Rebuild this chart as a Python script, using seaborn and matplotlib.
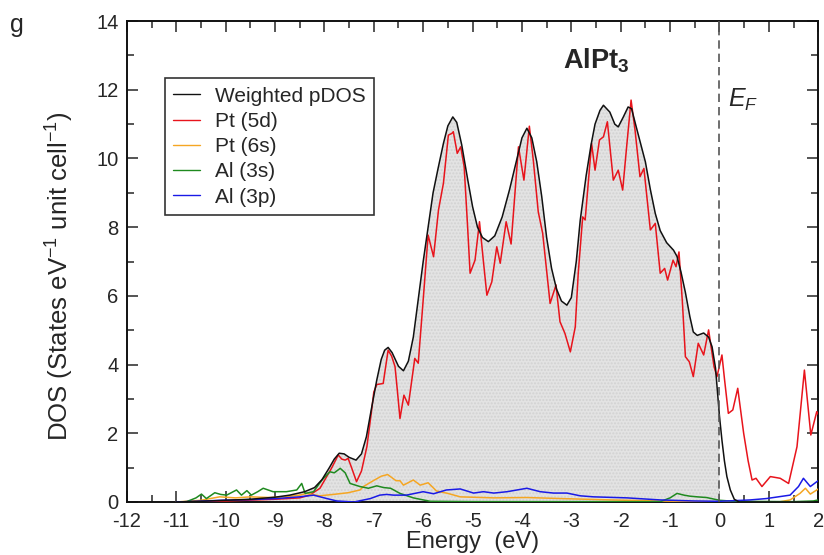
import numpy as np
import pandas as pd
import matplotlib
matplotlib.use('Agg')
import matplotlib.pyplot as plt
import seaborn as sns
from matplotlib.ticker import MultipleLocator

# --- 数据 ---
e_total = [-11.0, -10.5, -10.0, -9.5, -9.0, -8.7, -8.4, -8.2, -8.05, -7.9, -7.8, -7.7, -7.6, -7.5,
           -7.36, -7.25, -7.15, -7.05, -6.94, -6.85, -6.78, -6.71, -6.63, -6.5, -6.4, -6.3, -6.2,
           -6.1, -6.0, -5.9, -5.8, -5.7, -5.59, -5.5, -5.4, -5.32, -5.22, -5.1, -5.0, -4.9, -4.8,
           -4.68, -4.55, -4.4, -4.25, -4.1, -4.0, -3.9, -3.8, -3.7, -3.6, -3.5, -3.4, -3.3, -3.2,
           -3.09, -3.0, -2.9, -2.82, -2.7, -2.6, -2.52, -2.42, -2.35, -2.22, -2.12, -2.05, -1.95,
           -1.85, -1.78, -1.7, -1.6, -1.5, -1.4, -1.3, -1.2, -1.07, -0.93, -0.86, -0.78, -0.69,
           -0.6, -0.53, -0.45, -0.32, -0.22, -0.15, -0.08, 0.0, 0.05, 0.1, 0.15, 0.22, 0.3, 0.4, 2.0]
dos_total = [0.0, 0.02, 0.05, 0.08, 0.14, 0.2, 0.3, 0.42, 0.65, 1.0, 1.25, 1.42, 1.4, 1.3,
             1.22, 1.4, 1.9, 2.7, 3.55, 4.15, 4.42, 4.5, 4.35, 3.95, 3.82, 4.1, 4.8,
             5.9, 7.0, 8.0, 9.0, 9.7, 10.44, 10.95, 11.21, 11.05, 10.4, 9.4, 8.6, 8.0, 7.7,
             7.58, 7.75, 8.3, 9.1, 10.0, 10.6, 10.88, 10.6, 9.9, 8.9, 7.7, 6.8, 6.2, 5.85,
             5.73, 5.95, 7.0, 8.2, 9.5, 10.4, 11.0, 11.4, 11.55, 11.35, 11.0, 10.92, 11.2,
             11.5, 11.45, 11.0, 10.45, 9.9, 9.1, 8.4, 7.9, 7.55, 7.33, 7.15, 6.7, 6.1,
             5.4, 4.95, 4.85, 4.92, 4.8, 4.52, 3.9, 2.5, 1.8, 1.2, 0.74, 0.35, 0.08, 0.0, 0.0]

e_pt5d = [-11.0, -10.0, -9.0, -8.5, -8.3, -8.09, -7.95, -7.85, -7.72, -7.65, -7.58, -7.52, -7.45,
          -7.35, -7.25, -7.14, -7.05, -7.0, -6.94, -6.81, -6.71, -6.64, -6.57, -6.52, -6.47, -6.39,
          -6.3, -6.17, -6.1, -6.0, -5.9, -5.79, -5.69, -5.59, -5.49, -5.42, -5.39, -5.31, -5.24,
          -5.17, -5.1, -5.05, -4.95, -4.86, -4.78, -4.71, -4.61, -4.51, -4.44, -4.32, -4.22, -4.07,
          -3.96, -3.85, -3.77, -3.67, -3.58, -3.43, -3.31, -3.23, -3.13, -3.02, -2.92, -2.86,
          -2.77, -2.72, -2.59, -2.52, -2.43, -2.35, -2.27, -2.15, -2.05, -1.96, -1.88, -1.79,
          -1.71, -1.61, -1.53, -1.4, -1.3, -1.2, -1.11, -1.05, -0.94, -0.88, -0.82, -0.75, -0.69,
          -0.61, -0.53, -0.43, -0.32, -0.22, -0.11, -0.05, 0.05, 0.1, 0.18, 0.27, 0.37, 0.49,
          0.58, 0.66, 0.74, 0.86, 1.03, 1.23, 1.4, 1.57, 1.72, 1.85, 1.97, 2.0]
dos_pt5d = [0.0, 0.03, 0.08, 0.12, 0.2, 0.4, 0.75, 1.0, 1.37, 1.25, 1.22, 1.27, 1.0,
            0.59, 0.9, 1.61, 2.6, 3.2, 3.42, 3.45, 4.42, 4.25, 3.94, 3.2, 2.43, 3.11,
            2.82, 4.18, 4.04, 5.88, 7.77, 7.14, 8.5, 9.28, 10.68, 10.73, 10.78, 10.15, 10.34,
            9.76, 8.0, 6.66, 7.04, 8.16, 7.0, 6.02, 6.41, 7.43, 6.95, 8.16, 7.51, 10.34,
            9.37, 10.94, 9.95, 8.45, 7.82, 5.78, 6.32, 5.25, 4.91, 4.37, 5.1, 6.66,
            8.3, 8.21, 10.44, 9.66, 10.54, 10.63, 11.07, 9.37, 9.66, 9.08, 10.34, 11.7,
            10.83, 9.47, 9.71, 7.92, 8.11, 6.66, 6.8, 6.46, 7.04, 6.85, 7.28, 5.8, 4.23,
            4.08, 3.65, 4.62, 4.28, 5.01, 3.94, 3.65, 4.28, 3.6, 2.58, 2.68, 3.31, 2.0,
            1.2, 0.64, 0.69, 0.45, 0.74, 0.69, 0.54, 1.61, 3.84, 1.95, 2.63, 2.55]

e_pt6s = [-11.0, -10.5, -10.12, -9.8, -9.5, -9.1, -8.8, -8.5, -8.36, -8.1, -7.82, -7.52, -7.28,
          -7.21, -7.01, -6.85, -6.72, -6.55, -6.47, -6.4, -6.2, -6.06, -5.9, -5.73, -5.5, -5.25,
          -4.57, -3.9, -3.2, -2.2, -1.2, -0.5, 1.2, 1.43, 1.63, 1.74, 1.84, 1.97, 2.0]
dos_pt6s = [0.0, 0.05, 0.15, 0.12, 0.15, 0.13, 0.15, 0.2, 0.25, 0.18, 0.22, 0.27, 0.35,
            0.45, 0.62, 0.75, 0.8, 0.62, 0.62, 0.49, 0.64, 0.49, 0.56, 0.32, 0.25, 0.15,
            0.12, 0.13, 0.1, 0.06, 0.03, 0.01, 0.0, 0.06, 0.25, 0.4, 0.23, 0.35, 0.38]

e_al3s = [-11.0, -10.79, -10.6, -10.49, -10.39, -10.22, -10.1, -9.98, -9.78, -9.68, -9.57, -9.48,
          -9.35, -9.24, -9.04, -8.77, -8.56, -8.46, -8.39, -8.22, -8.05, -7.89, -7.8, -7.68, -7.58,
          -7.48, -7.28, -7.11, -6.94, -6.8, -6.66, -6.47, -6.2, -5.86, -5.0, -1.2, -1.0, -0.86,
          -0.72, -0.6, -0.45, -0.26, 0.0, 0.3, 1.5, 1.9, 2.0]
dos_al3s = [0.0, 0.01, 0.12, 0.23, 0.1, 0.27, 0.22, 0.2, 0.35, 0.2, 0.33, 0.2,
            0.3, 0.4, 0.3, 0.3, 0.35, 0.54, 0.25, 0.3, 0.64, 0.88, 0.85, 0.98, 0.85,
            0.54, 0.45, 0.4, 0.47, 0.42, 0.4, 0.25, 0.12, 0.02, 0.01, 0.01, 0.12, 0.25,
            0.2, 0.17, 0.15, 0.13, 0.05, 0.02, 0.01, 0.03, 0.06]

e_al3p = [-11.0, -10.6, -10.1, -9.5, -8.97, -8.5, -8.22, -7.95, -7.75, -7.4, -7.07, -6.88, -6.74,
          -6.6, -6.34, -6.0, -5.79, -5.53, -5.25, -4.98, -4.78, -4.57, -4.3, -3.9, -3.63, -3.36,
          -3.09, -2.82, -2.55, -1.87, -1.2, -0.52, 0.0, 0.62, 0.95, 1.43, 1.6, 1.7, 1.84, 1.97, 2.0]
dos_al3p = [0.0, 0.02, 0.05, 0.07, 0.1, 0.15, 0.2, 0.1, 0.03, 0.0, 0.1, 0.2, 0.22,
            0.2, 0.2, 0.3, 0.24, 0.35, 0.38, 0.26, 0.3, 0.26, 0.3, 0.4, 0.3, 0.26,
            0.26, 0.18, 0.15, 0.12, 0.06, 0.03, 0.02, 0.06, 0.1, 0.2, 0.45, 0.69, 0.45, 0.59, 0.62]

labels = ['Weighted pDOS', 'Pt (5d)', 'Pt (6s)', 'Al (3s)', 'Al (3p)']
colors = ['#111111', '#e8141c', '#f5a623', '#1f8a1f', '#1a1ae6']

# --- 绘图 ---
sns.set_style('ticks')
plt.rcParams['font.family'] = ['Liberation Sans', 'DejaVu Sans']
plt.rcParams['axes.unicode_minus'] = False
plt.rcParams['mathtext.fontset'] = 'custom'
plt.rcParams['mathtext.rm'] = 'Liberation Sans'
plt.rcParams['mathtext.it'] = 'Liberation Sans:italic'
plt.rcParams['mathtext.bf'] = 'Liberation Sans:bold'

fig, ax = plt.subplots(figsize=(8.24, 5.55), dpi=100)
fig.subplots_adjust(left=0.154, right=0.993, top=0.962, bottom=0.0955)

series = [(e_total, dos_total), (e_pt5d, dos_pt5d), (e_pt6s, dos_pt6s),
          (e_al3s, dos_al3s), (e_al3p, dos_al3p)]

# 费米能级以下填充
e_arr = np.array(e_total)
d_arr = np.array(dos_total)
mask = e_arr <= 0
ax.fill_between(e_arr[mask], d_arr[mask], 0, facecolor='#e3e3e3', edgecolor='#d2d2d2',
                hatch='.....', linewidth=0, zorder=1)

for (xs, ys), lab, col in zip(series, labels, colors):
    df = pd.DataFrame({'E': xs, 'DOS': ys})
    sns.lineplot(data=df, x='E', y='DOS', ax=ax, color=col, label=lab,
                 linewidth=1.1, estimator=None, sort=False, zorder=3)

# 总DOS放在最上层
ax.lines[0].set_zorder(4)

ax.axvline(0, color='#555555', linestyle=(0, (5, 3)), linewidth=1.2, zorder=5)

ax.set_xlim(-12, 2)
ax.set_ylim(0, 14)
ax.xaxis.set_major_locator(MultipleLocator(1))
ax.xaxis.set_minor_locator(MultipleLocator(0.5))
ax.yaxis.set_major_locator(MultipleLocator(2))
ax.yaxis.set_minor_locator(MultipleLocator(1))
ax.tick_params(which='both', direction='in', top=True, right=True, labelsize=14.5, width=1.1)
ax.tick_params(which='major', length=8)
ax.tick_params(axis='x', which='major', pad=7)
ax.tick_params(axis='y', which='major', pad=6)
ax.tick_params(which='minor', length=5)
for sp in ax.spines.values():
    sp.set_linewidth(1.4)
    sp.set_color('#111111')

ax.set_xlabel('Energy  (eV)', fontsize=17, labelpad=0)
ax.set_ylabel(r'DOS (States eV$^{-1}$ unit cell$^{-1}$)', fontsize=18.5)
ax.yaxis.set_label_coords(-0.074, 0.47)

ax.text(-2.5, 12.85, r'AlPt$_{\mathbf{3}}$', fontsize=19.5, fontweight='bold', ha='center', va='center')
ax.text(0.17, 11.7, r'$E_F$', fontsize=18, ha='left', va='center')
fig.text(0.012, 0.955, 'g', fontsize=18, ha='left', va='center')

leg = ax.legend(loc='upper left', bbox_to_anchor=(0.055, 0.881), borderaxespad=0,
                fontsize=15, frameon=True, fancybox=False, handlelength=1.3,
                labelspacing=0.3, borderpad=0.4, handletextpad=0.7)
leg.get_frame().set_edgecolor('black')
leg.get_frame().set_linewidth(1.2)
for h in leg.get_lines():
    h.set_linewidth(1.0)

fig.savefig('out.png', dpi=100)
